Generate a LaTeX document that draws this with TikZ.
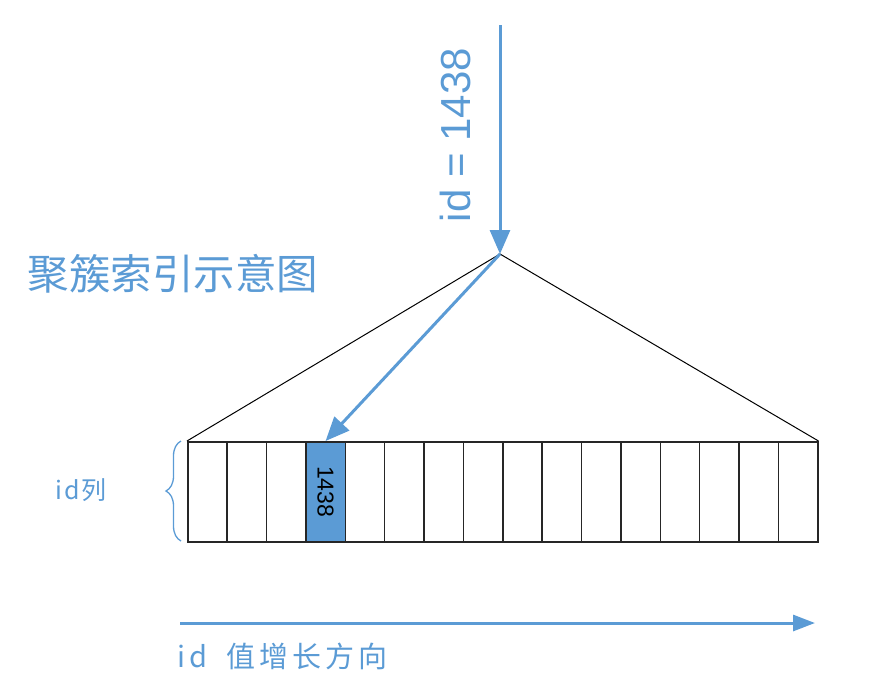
\documentclass[tikz,border=0pt]{standalone}
\usepackage{fontspec}
\setmainfont{Noto Sans CJK SC}
\newfontfamily\latinfont{Liberation Sans}
\newfontfamily\spacedfont[LetterSpace=8]{Noto Sans CJK SC}
\newfontfamily\widefont[LetterSpace=14]{Noto Sans CJK SC}
\usetikzlibrary{arrows.meta,decorations.pathreplacing}
\definecolor{idxblue}{HTML}{5B9BD5}
\tikzset{
  bluearrow/.style={draw=idxblue,line width=3pt,-{Triangle[length=24pt,width=20pt]}},
  cell/.style={draw=black!85,line width=1.5pt,minimum width=39.375pt,minimum height=100pt,inner sep=0pt,anchor=north west},
  tri/.style={draw=black,line width=1pt},
  bluetext/.style={text=idxblue}
}
\begin{document}
\begin{tikzpicture}[x=1pt,y=-1pt]
\useasboundingbox (0,0) rectangle (878,686);
% cells
\foreach \i in {0,...,15}{
  \node[cell] (c\i) at ({187+\i*39.375},441) {};
}
\node[cell,fill=idxblue] (hl) at ({187+3*39.375},441) {};
\node[rotate=-90,font=\latinfont\fontsize{23}{23}\selectfont] (hlt) at (hl.center) {1438};
% triangle
\coordinate (apex) at (500,254);
\draw[tri] (c0.north west) -- (apex) -- (c15.north east);
% top arrow
\coordinate (top) at (500,25);
\draw[bluearrow] (top) -- (apex);
\node[bluetext,rotate=90,font=\latinfont\fontsize{42}{42}\selectfont] (idlabel) at (455,135) {id = 1438};
% diagonal arrow
\draw[bluearrow] (apex) -- (hl.north);
% title
\node[bluetext,anchor=west,font=\fontsize{41.5}{41.5}\selectfont] (title) at (24,274) {聚簇索引示意图};
% brace
\draw[idxblue,line width=1.3pt,decorate,decoration={brace,amplitude=15pt,aspect=0.5,mirror}] (181,441) -- (181,541) coordinate[pos=0.5] (bmid);
\node[bluetext,anchor=west,font=\spacedfont\fontsize{25}{25}\selectfont] (idcol) at (52,490) {id列};
% bottom arrow
\coordinate (b0) at (180,623);
\coordinate (b1) at (815,623);
\draw[draw=idxblue,line width=3pt,-{Triangle[length=22pt,width=16pt]}] (b0) -- (b1);
\node[bluetext,anchor=west,font=\widefont\fontsize{29}{29}\selectfont] (dir) at (174,656) {id\hspace{8pt} 值增长方向};
\end{tikzpicture}
\end{document}
